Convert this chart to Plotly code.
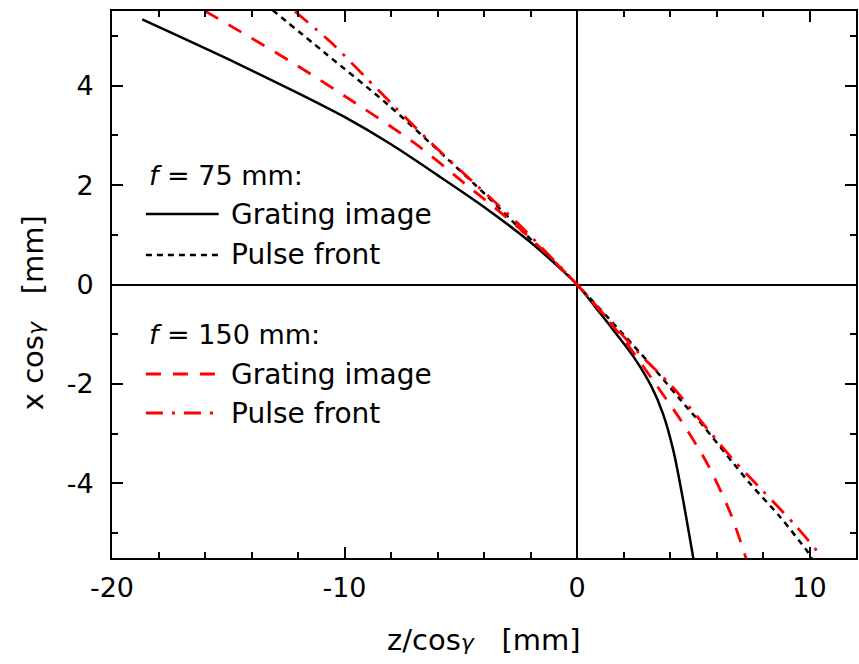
import plotly.graph_objects as go

# f = 75 mm, grating image (solid black)
z_img75 = [-18.7, -15.0, -12.0, -10.0, -8.0, -6.0, -4.0, -2.0, -1.0, 0.0,
           1.0, 1.7, 2.5, 3.2, 3.7, 4.15, 4.55, 5.02]
x_img75 = [5.33, 4.53, 3.85, 3.37, 2.82, 2.2, 1.56, 0.85, 0.44, 0.0,
           -0.58, -1.0, -1.5, -2.05, -2.6, -3.35, -4.3, -5.55]

# f = 75 mm, pulse front (black dotted)
z_pf75 = [-13.1, -10.85, -8.14, -6.0, -3.85, -2.28, 0.0, 1.93, 3.35, 4.78,
          5.28, 7.42, 8.71, 9.85, 10.1]
x_pf75 = [5.52, 4.66, 3.62, 2.71, 1.77, 1.04, 0.0, -0.97, -1.71, -2.5,
          -2.76, -3.99, -4.66, -5.33, -5.5]

# f = 150 mm, grating image (red dashed)
z_img150 = [-16.0, -14.13, -11.99, -9.6, -7.0, -4.85, -2.43, 0.0, 2.0, 3.3,
            4.45, 5.6, 6.6, 7.3]
x_img150 = [5.5, 4.99, 4.39, 3.67, 2.85, 2.04, 1.11, 0.0, -1.1, -1.95,
            -2.72, -3.6, -4.6, -5.55]

# f = 150 mm, pulse front (red dash-dot)
z_pf150 = [-12.13, -10.56, -9.14, -7.85, -6.28, -4.28, -2.57, 0.0, 2.64, 4.07,
           5.25, 6.71, 7.99, 9.42, 10.56]
x_pf150 = [5.49, 4.86, 4.19, 3.58, 2.85, 1.98, 1.24, 0.0, -1.37, -2.04,
           -2.7, -3.52, -4.15, -4.86, -5.49]

x_ticks = [-20, -10, 0, 10]
x_ticktext = ["-20", "-10", "0", "10"]
y_ticks = [-4, -2, 0, 2, 4]
y_ticktext = ["-4", "-2", "0", "2", "4"]

FONT = "DejaVu Sans"
BLACK = "#000000"
RED = "#ff0000"

styles = {
    "img75": dict(color=BLACK, width=2.5, dash="solid"),
    "pf75": dict(color=BLACK, width=2.5, dash="6px,5px"),
    "img150": dict(color=RED, width=2.8, dash="15px,12px"),
    "pf150": dict(color=RED, width=2.8, dash="17px,9px,3px,9px"),
}

fig = go.Figure()
for key, zs, xs in [("img75", z_img75, x_img75), ("pf75", z_pf75, x_pf75),
                    ("img150", z_img150, x_img150), ("pf150", z_pf150, x_pf150)]:
    fig.add_trace(go.Scatter(x=zs, y=xs, mode="lines", line=styles[key],
                             line_shape="spline", line_smoothing=0.8,
                             showlegend=False, hoverinfo="skip"))

axis_common = dict(
    showgrid=False, showline=True, linecolor=BLACK, linewidth=2,
    mirror="ticks", ticks="inside", ticklen=11, tickwidth=1.5, tickcolor=BLACK,
    zeroline=True, zerolinecolor=BLACK, zerolinewidth=2,
    tickfont=dict(family=FONT, size=27, color=BLACK),
)

fig.update_xaxes(range=[-20, 12], tickvals=x_ticks, ticktext=x_ticktext,
                 minor=dict(ticks="inside", ticklen=6, tickwidth=1.5,
                            tickcolor=BLACK, dtick=2, tick0=0),
                 ticklabelstandoff=5, **axis_common)
fig.update_yaxes(range=[-5.5, 5.5], tickvals=y_ticks, ticktext=y_ticktext,
                 minor=dict(ticks="inside", ticklen=6, tickwidth=1.5,
                            tickcolor=BLACK, dtick=1, tick0=0),
                 ticklabelstandoff=11, **axis_common)

W, H = 859, 664
L, R, T, B = 112, 1, 11, 106
pw, ph = W - L - R, H - T - B


def px(xp):
    return (xp - L) / pw


def py(yp):
    return (H - B - yp) / ph


annotations = []
shapes = []

# legend block
legend_rows = [
    ("header", "<i>f</i> = 75 mm:", 175, None),
    ("item", "Grating image", 214, "img75"),
    ("item", "Pulse front", 255, "pf75"),
    ("header", "<i>f</i> = 150 mm:", 335, None),
    ("item", "Grating image", 374, "img150"),
    ("item", "Pulse front", 413, "pf150"),
]
for kind, text, yp, key in legend_rows:
    if kind == "header":
        annotations.append(dict(x=px(147), y=py(yp), xref="paper", yref="paper",
                                text=text, showarrow=False, xanchor="left",
                                yanchor="middle",
                                font=dict(family=FONT, size=27, color=BLACK)))
    else:
        shapes.append(dict(type="line", xref="paper", yref="paper",
                           x0=px(146), x1=px(219), y0=py(yp), y1=py(yp),
                           line=styles[key]))
        annotations.append(dict(x=px(229), y=py(yp), xref="paper", yref="paper",
                                text=text, showarrow=False, xanchor="left",
                                yanchor="middle",
                                font=dict(family=FONT, size=28, color=BLACK)))

gamma = "<i><span style='font-size:22px'>γ</span></i>"
annotations.append(dict(x=0.5, y=py(640), xref="paper", yref="paper",
                        text="z/cos" + gamma + "\u00a0\u00a0\u00a0[mm]",
                        showarrow=False, xanchor="center", yanchor="middle",
                        font=dict(family=FONT, size=29, color=BLACK)))
annotations.append(dict(x=px(33), y=py(313), xref="paper", yref="paper",
                        text="x cos" + gamma + "\u00a0\u00a0\u00a0[mm]",
                        textangle=-90, showarrow=False, xanchor="center",
                        yanchor="middle",
                        font=dict(family=FONT, size=29, color=BLACK)))

fig.update_layout(
    width=W, height=H,
    margin=dict(l=L, r=R, t=T, b=B, pad=0),
    paper_bgcolor="white", plot_bgcolor="white",
    annotations=annotations, shapes=shapes,
    showlegend=False,
)

fig.write_html("out.html")
